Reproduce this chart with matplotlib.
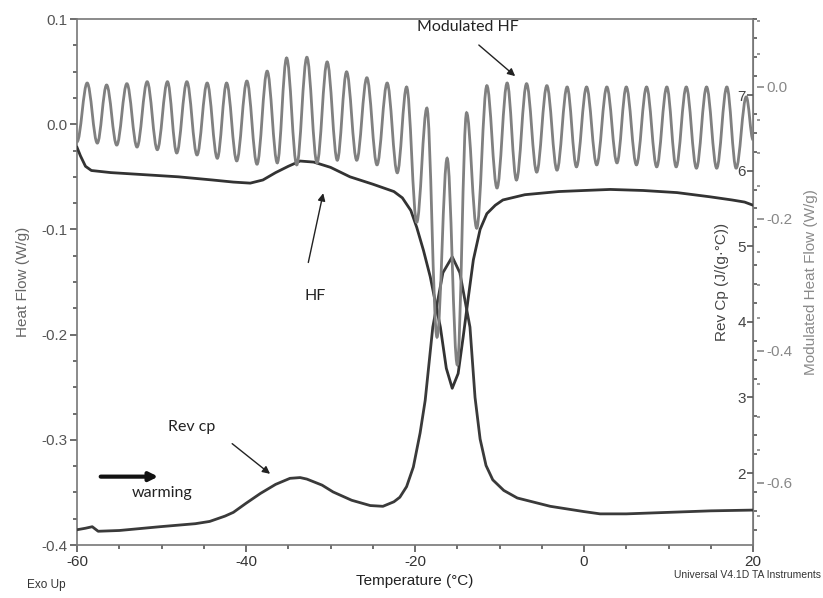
import matplotlib
matplotlib.use('Agg')
import matplotlib.pyplot as plt
from matplotlib.path import Path
from matplotlib.patches import PathPatch
from matplotlib.ticker import MultipleLocator, FixedLocator, FormatStrFormatter

# Heat flow (left axis, W/g)
hf_temp = [-60.0, -59.6, -59.0, -58.3, -56.0, -52.0, -48.0, -44.0, -41.5, -39.5,
           -38.0, -36.5, -35.0, -33.6, -32.0, -30.0, -27.7, -25.0, -22.5, -21.5,
           -20.5, -19.8, -19.0, -18.2, -17.0, -16.3, -15.6, -14.9, -14.3, -13.7,
           -13.1, -12.3, -11.5, -10.5, -9.6, -7.0, -3.0, 0.0, 3.1, 7.0,
           11.0, 14.9, 17.5, 19.0, 20.0]
hf_value = [-0.022, -0.030, -0.040, -0.044, -0.046, -0.048, -0.050, -0.053, -0.055, -0.056,
            -0.053, -0.046, -0.040, -0.035, -0.036, -0.041, -0.050, -0.057, -0.064, -0.070,
            -0.082, -0.098, -0.120, -0.145, -0.193, -0.232, -0.251, -0.237, -0.202, -0.165,
            -0.129, -0.100, -0.085, -0.077, -0.072, -0.067, -0.064, -0.063, -0.062, -0.063,
            -0.065, -0.069, -0.072, -0.074, -0.077]

# Reversing heat capacity (inner right axis, J/(g.C))
cp_temp = [-60.0, -59.0, -58.2, -57.5, -55.0, -50.2, -46.0, -44.3, -42.5, -41.5,
           -40.0, -38.3, -36.5, -34.8, -33.6, -32.8, -31.0, -29.7, -27.5, -25.3,
           -23.8, -22.5, -21.8, -21.0, -20.2, -19.4, -18.8, -17.9, -16.7, -15.6,
           -14.7, -13.5, -12.9, -12.3, -11.6, -10.8, -9.5, -7.9, -4.0, 0.0,
           1.9, 5.0, 10.0, 15.0, 20.0]
cp_value = [1.25, 1.27, 1.29, 1.23, 1.24, 1.29, 1.33, 1.36, 1.43, 1.48,
            1.60, 1.73, 1.85, 1.93, 1.94, 1.92, 1.84, 1.75, 1.64, 1.57,
            1.56, 1.62, 1.68, 1.82, 2.08, 2.53, 2.96, 3.93, 4.65, 4.86,
            4.65, 3.93, 3.00, 2.45, 2.10, 1.91, 1.77, 1.67, 1.56, 1.49,
            1.46, 1.46, 1.48, 1.50, 1.51]

# Modulated heat flow (outer right axis, W/g): turning points of the oscillation
mhf_temp = [-60.0, -58.8, -57.6, -56.5, -55.3, -54.1, -52.9, -51.7, -50.5, -49.3,
            -48.2, -47.0, -45.8, -44.6, -43.4, -42.3, -41.1, -39.9, -38.7, -37.5,
            -36.3, -35.2, -34.0, -32.8, -31.6, -30.4, -29.2, -28.1, -26.9, -25.7,
            -24.5, -23.3, -22.1, -21.0, -19.8, -18.6, -17.4, -16.2, -15.0, -13.9,
            -12.7, -11.5, -10.3, -9.1, -8.0, -6.8, -5.6, -4.4, -3.2, -2.0,
            -0.9, 0.3, 1.5, 2.7, 3.9, 5.0, 6.2, 7.4, 8.6, 9.8,
            10.9, 12.1, 13.3, 14.5, 15.7, 16.9, 18.0, 19.2, 20.0]
mhf_value = [-0.083, 0.006, -0.085, 0.003, -0.088, 0.005, -0.091, 0.008, -0.095, 0.008,
             -0.100, 0.008, -0.103, 0.006, -0.108, 0.006, -0.112, 0.009, -0.117, 0.024,
             -0.115, 0.044, -0.118, 0.045, -0.115, 0.038, -0.111, 0.023, -0.111, 0.014,
             -0.118, 0.006, -0.130, 0.000, -0.205, -0.032, -0.379, -0.108, -0.421, -0.039,
             -0.214, 0.002, -0.153, 0.006, -0.141, 0.005, -0.129, 0.002, -0.126, 0.000,
             -0.121, 0.000, -0.118, 0.000, -0.115, 0.000, -0.118, 0.000, -0.121, 0.000,
             -0.121, 0.000, -0.123, 0.000, -0.123, 0.000, -0.123, -0.015, -0.080]

plt.rcParams['font.family'] = ['Liberation Sans', 'DejaVu Sans']
plt.rcParams['axes.unicode_minus'] = False

fig = plt.figure(figsize=(8.23, 5.98), dpi=100)
ax = fig.add_axes([0.0936, 0.0886, 0.8214, 0.8796])

ax.plot(hf_temp, hf_value, color='#333333', lw=2, zorder=3)
ax.set_xlim(-60, 20)
ax.set_ylim(-0.4, 0.1)
ax.xaxis.set_major_locator(MultipleLocator(20))
ax.xaxis.set_minor_locator(MultipleLocator(5))
ax.yaxis.set_major_locator(MultipleLocator(0.1))
ax.yaxis.set_minor_locator(MultipleLocator(0.025))
ax.yaxis.set_major_formatter(FormatStrFormatter('%.1f'))
ax.xaxis.set_major_formatter(FormatStrFormatter('%d'))
for s in ax.spines.values():
    s.set_color('#777777')
    s.set_linewidth(1.2)
ax.tick_params(which='major', length=5, width=1.2, color='#555555', labelsize=11,
               labelcolor='#333333', pad=2)
ax.tick_params(which='minor', length=3, width=1.2, color='#555555')
ax.tick_params(axis='y', labelcolor='#555555')
ax.set_xlabel('Temperature (°C)', fontsize=11, color='#222222', labelpad=4)
ax.set_ylabel('Heat Flow (W/g)', fontsize=11, color='#666666', labelpad=8)

# Rev Cp axis: on the right frame, labels facing inwards
ax2 = ax.twinx()
ax2.plot(cp_temp, cp_value, color='#3a3a3a', lw=2, zorder=3)
ax2.set_ylim(1.048, 8.005)
ax2.spines['left'].set_position(('axes', 1.0))
ax2.yaxis.set_ticks_position('left')
ax2.yaxis.set_label_position('left')
for name in ['top', 'bottom', 'right']:
    ax2.spines[name].set_visible(False)
ax2.spines['left'].set_color('#777777')
ax2.yaxis.set_major_locator(FixedLocator([2, 3, 4, 5, 6, 7]))
ax2.yaxis.set_minor_locator(MultipleLocator(0.25))
ax2.tick_params(which='major', length=4, width=1.2, color='#555555', labelsize=11,
                labelcolor='#444444', pad=1)
ax2.tick_params(which='minor', length=3, width=1.2, color='#555555', direction='in')
ax2.set_ylabel('Rev Cp (J/(g·°C))', fontsize=11, color='#444444', labelpad=6)

# Modulated heat flow axis
ax3 = ax.twinx()
ax3.set_ylim(-0.694, 0.103)
ax3.set_xlim(-60, 20)
for name in ['top', 'bottom', 'left']:
    ax3.spines[name].set_visible(False)
ax3.spines['right'].set_position(('axes', 1.006))
ax3.spines['right'].set_visible(False)
ax3.yaxis.set_major_locator(FixedLocator([-0.6, -0.4, -0.2, 0.0]))
ax3.yaxis.set_minor_locator(MultipleLocator(0.05))
ax3.yaxis.set_major_formatter(FormatStrFormatter('%.1f'))
ax3.tick_params(which='major', length=5, width=1.2, color='#888888', labelsize=11,
                labelcolor='#888888', pad=2)
ax3.tick_params(which='minor', length=2, width=1.2, color='#888888')
ax3.set_ylabel('Modulated Heat Flow (W/g)', fontsize=11, color='#8a8a8a', labelpad=8)

# smooth curve through the turning points (horizontal tangents at each one)
verts = [(mhf_temp[0], mhf_value[0])]
codes = [Path.MOVETO]
for i in range(1, len(mhf_temp)):
    x0, y0 = mhf_temp[i - 1], mhf_value[i - 1]
    x1, y1 = mhf_temp[i], mhf_value[i]
    d = (x1 - x0) * 0.36
    verts += [(x0 + d, y0), (x1 - d, y1), (x1, y1)]
    codes += [Path.CURVE4] * 3
ax3.add_patch(PathPatch(Path(verts, codes), fill=False, edgecolor='#808080', lw=2,
                        transform=ax3.transData, zorder=2))

# annotations (placed in heat-flow data coordinates)
note_font = ['Lato', 'DejaVu Sans']
arrow = dict(arrowstyle='-|>', color='#222222', lw=1, mutation_scale=11)
ax3.annotate('', xy=(-7.9, 0.044), xytext=(-12.7, 0.077), xycoords=ax.transData,
             textcoords=ax.transData, arrowprops=arrow)
ax3.text(-13.7, 0.092, 'Modulated HF', transform=ax.transData, ha='center', va='center',
         fontsize=11.5, family=note_font, color='#222222')
ax3.annotate('', xy=(-30.8, -0.063), xytext=(-32.7, -0.134), xycoords=ax.transData,
             textcoords=ax.transData, arrowprops=arrow)
ax3.text(-31.8, -0.163, 'HF', transform=ax.transData, ha='center', va='center',
         fontsize=11.5, family=note_font, color='#222222')
ax3.annotate('', xy=(-36.9, -0.334), xytext=(-41.9, -0.302), xycoords=ax.transData,
             textcoords=ax.transData, arrowprops=arrow)
ax3.text(-46.4, -0.288, 'Rev cp', transform=ax.transData, ha='center', va='center',
         fontsize=11.5, family=note_font, color='#222222')
ax3.annotate('', xy=(-50.4, -0.335), xytext=(-57.2, -0.335), xycoords=ax.transData,
             textcoords=ax.transData,
             arrowprops=dict(arrowstyle='-|>,head_length=0.5,head_width=0.25',
                             color='#111111', lw=3, shrinkA=0, shrinkB=0))
ax3.text(-49.9, -0.351, 'warming', transform=ax.transData, ha='center', va='center',
         fontsize=11.5, family=note_font, color='#222222')

fig.text(0.033, 0.022, 'Exo Up', fontsize=8.5, color='#333333', va='center')
fig.text(0.998, 0.038, 'Universal V4.1D TA Instruments', fontsize=7.5,
         color='#333333', va='center', ha='right')

fig.savefig('out.png', dpi=100)
